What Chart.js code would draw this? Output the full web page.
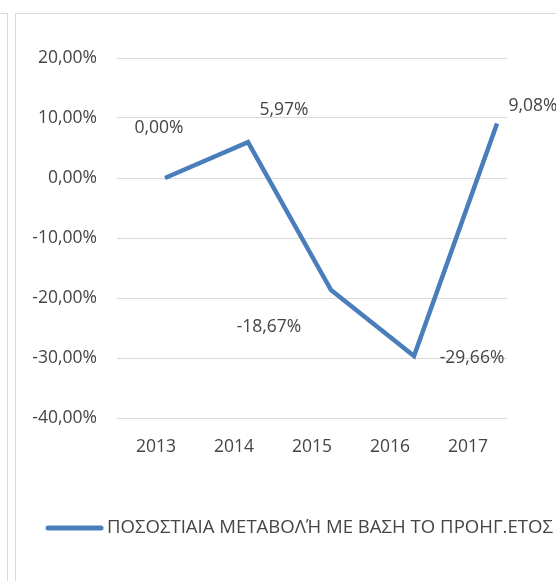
<!DOCTYPE html>
<html>
<head>
<meta charset="utf-8">
<script src="https://cdn.jsdelivr.net/npm/chart.js@4.4.1/dist/chart.umd.min.js"></script>
<style>
  html, body { margin: 0; padding: 0; background: #fff; }
  #wrap { position: relative; width: 556px; height: 581px; overflow: hidden; }
  #leftbox { position: absolute; left: -1px; top: 13px; width: 8px; height: 600px;
             border-top: 1px solid #d9d9d9; border-right: 1px solid #d9d9d9; }
  #frame { position: absolute; left: 15px; top: 13px; width: 600px; height: 600px;
           border-top: 1px solid #d9d9d9; border-left: 1px solid #d9d9d9; }
  canvas { position: absolute; left: 0; top: 0; }
</style>
</head>
<body>
<div id="wrap">
  <div id="leftbox"></div>
  <div id="frame"></div>
  <canvas id="c" width="556" height="581"></canvas>
</div>
<script>
// ---- data ----
const categories = ['2013', '2014', '2015', '2016', '2017'];
const seriesName = 'ΠΟΣΟΣΤΙΑΙΑ ΜΕΤΑΒΟΛΉ ΜΕ ΒΑΣΗ ΤΟ ΠΡΟΗΓ.ΕΤΟΣ';
const values = [0.00, 5.97, -18.67, -29.66, 9.08];
const yTicks = [20, 10, 0, -10, -20, -30, -40];

// ---- style ----
const labelOffsets = [[-6, -50], [36, -32], [-62, 37], [58, 2], [36, -18]];
const textColor = '#454545';
const lineColor = '#4a7ebb';
const fontFamily = "'Open Sans', sans-serif";
const fmt = v => v.toFixed(2).replace('.', ',') + '%';

const dataLabels = {
  id: 'dataLabels',
  afterDatasetsDraw(chart) {
    const ctx = chart.ctx;
    const meta = chart.getDatasetMeta(0);
    ctx.save();
    ctx.font = '17.5px ' + fontFamily;
    ctx.fillStyle = textColor;
    ctx.textAlign = 'center';
    ctx.textBaseline = 'middle';
    meta.data.forEach((pt, i) => {
      const [dx, dy] = labelOffsets[i];
      ctx.fillText(fmt(values[i]), pt.x + dx, pt.y + dy);
    });
    ctx.restore();
  }
};

const customLegend = {
  id: 'customLegend',
  afterDraw(chart) {
    const ctx = chart.ctx;
    const y = 528;
    ctx.save();
    ctx.strokeStyle = lineColor;
    ctx.lineWidth = 5;
    ctx.lineCap = 'round';
    ctx.beginPath();
    ctx.moveTo(48, y);
    ctx.lineTo(101, y);
    ctx.stroke();
    ctx.font = '18.5px ' + fontFamily;
    ctx.fillStyle = textColor;
    ctx.textAlign = 'left';
    ctx.textBaseline = 'middle';
    const target = 446;
    const w = ctx.measureText(seriesName).width;
    ctx.translate(107, y);
    ctx.scale(target / w, 1);
    ctx.fillText(seriesName, 0, 0);
    ctx.restore();
  }
};

new Chart(document.getElementById('c'), {
  type: 'line',
  data: {
    datasets: [{
      label: seriesName,
      data: values.map((v, i) => ({ x: i, y: v })),
      xAxisID: 'xl',
      yAxisID: 'y',
      borderColor: lineColor,
      backgroundColor: lineColor,
      borderWidth: 4.5,
      pointRadius: 0,
      tension: 0,
      fill: false
    }]
  },
  options: {
    responsive: false,
    animation: false,
    layout: { padding: { left: 0, right: 49, top: 58, bottom: 103 } },
    plugins: { legend: { display: false }, tooltip: { enabled: false } },
    scales: {
      x: {
        type: 'category',
        labels: categories,
        offset: true,
        position: 'bottom',
        grid: { display: false, drawTicks: false },
        border: { display: false },
        ticks: { color: textColor, font: { family: fontFamily, size: 17.5 }, padding: 19, maxRotation: 0 },
        afterFit(s) { s.height = 60; }
      },
      xl: {
        type: 'linear',
        display: false,
        min: -0.578,
        max: 4.12
      },
      y: {
        type: 'linear',
        min: -40,
        max: 20,
        afterBuildTicks(s) { s.ticks = yTicks.map(v => ({ value: v })); },
        grid: { color: '#d9d9d9', lineWidth: 1, drawTicks: false },
        border: { display: false },
        ticks: { color: textColor, font: { family: fontFamily, size: 17.5 }, padding: 20, callback: v => fmt(v) },
        afterFit(s) { s.width = 117; }
      }
    }
  },
  plugins: [dataLabels, customLegend]
});
</script>
</body>
</html>
